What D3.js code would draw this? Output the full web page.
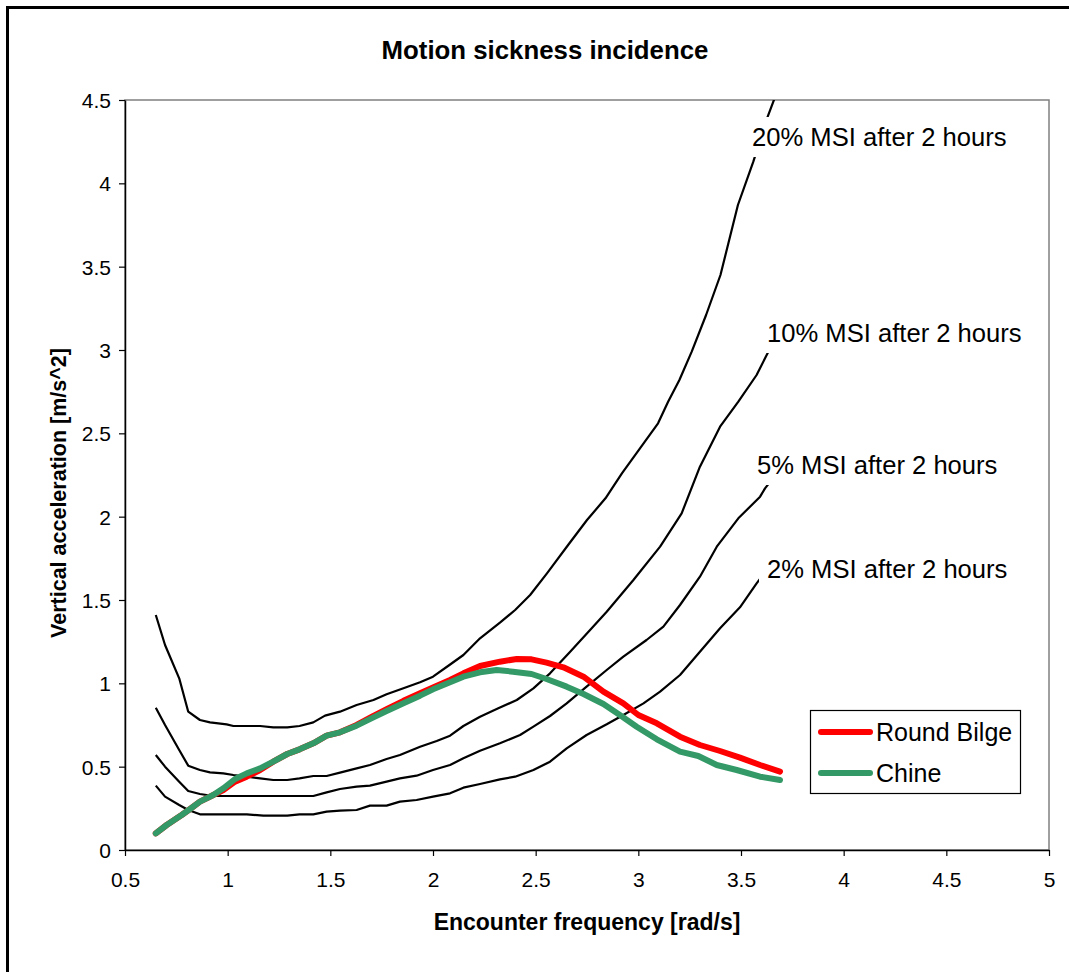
<!DOCTYPE html>
<html>
<head>
  <title>Motion sickness incidence</title>
  <style>
  html, body { margin:0; padding:0; background:white; }
  svg { display:block; font-family: "Liberation Sans", Arial, sans-serif; }
  </style>
  <script src="https://d3js.org/d3.v7.min.js"></script>
</head>
<body>
<svg id="canvas" width="1069" height="972"></svg>

<script>
  // ---- data ----
  var xTicks = [0.5, 1, 1.5, 2, 2.5, 3, 3.5, 4, 4.5, 5];
  var yTicks = [0, 0.5, 1, 1.5, 2, 2.5, 3, 3.5, 4, 4.5];

  var msi20x = [0.65,0.695,0.764,0.808,0.865,0.914,0.995,1.028,1.158,1.222,1.29,1.35,1.417,1.474,1.547,1.628,1.71,1.774,1.856,1.937,2.0,2.08,2.148,2.229,2.326,2.40,2.473,2.555,2.658,2.75,2.84,2.92,3.008,3.096,3.145,3.20,3.26,3.33,3.40,3.485,3.56,3.63,3.70];
  var msi20y = [1.41,1.23,1.03,0.83,0.78,0.766,0.754,0.744,0.744,0.736,0.736,0.744,0.766,0.806,0.83,0.87,0.9,0.934,0.97,1.006,1.04,1.11,1.17,1.27,1.364,1.44,1.53,1.66,1.83,1.98,2.11,2.26,2.41,2.56,2.69,2.82,2.99,3.21,3.45,3.87,4.13,4.4,4.63];

  var msi10x = [0.65,0.695,0.764,0.808,0.865,0.914,0.979,1.028,1.093,1.158,1.222,1.29,1.35,1.417,1.482,1.547,1.628,1.693,1.774,1.839,1.937,2.018,2.083,2.148,2.229,2.318,2.408,2.489,2.57,2.668,2.765,2.846,2.976,3.106,3.211,3.30,3.398,3.487,3.576,3.617,3.70];
  var msi10y = [0.854,0.75,0.6,0.506,0.48,0.466,0.46,0.45,0.44,0.43,0.42,0.42,0.43,0.444,0.444,0.464,0.49,0.51,0.546,0.57,0.62,0.654,0.686,0.744,0.8,0.85,0.9,0.97,1.06,1.19,1.32,1.43,1.62,1.82,2.02,2.3,2.54,2.69,2.85,2.95,3.15];

  var msi5x = [0.65,0.695,0.764,0.808,0.865,0.93,1.417,1.482,1.547,1.628,1.693,1.774,1.839,1.92,2.0,2.083,2.148,2.229,2.326,2.424,2.489,2.57,2.651,2.748,2.846,2.927,3.04,3.122,3.203,3.30,3.382,3.487,3.593,3.617,3.70];
  var msi5y = [0.57,0.5,0.41,0.354,0.336,0.324,0.324,0.346,0.366,0.38,0.386,0.41,0.43,0.446,0.48,0.51,0.55,0.596,0.64,0.69,0.74,0.804,0.88,0.98,1.08,1.16,1.26,1.34,1.47,1.64,1.82,1.99,2.12,2.17,2.3];

  var msi2x = [0.65,0.695,0.764,0.808,0.865,1.093,1.174,1.29,1.35,1.417,1.482,1.547,1.628,1.693,1.774,1.839,1.92,2.0,2.083,2.148,2.229,2.326,2.4,2.489,2.57,2.651,2.748,2.846,2.927,3.025,3.106,3.203,3.30,3.398,3.495,3.576,3.70];
  var msi2y = [0.386,0.32,0.27,0.24,0.214,0.214,0.206,0.206,0.214,0.214,0.23,0.236,0.24,0.266,0.266,0.29,0.3,0.32,0.34,0.374,0.396,0.424,0.44,0.48,0.53,0.61,0.69,0.754,0.81,0.88,0.95,1.05,1.19,1.33,1.456,1.6,1.8];

  var bilgeX = [0.65,0.703,0.776,0.817,0.865,0.93,0.979,1.036,1.093,1.158,1.222,1.29,1.35,1.417,1.482,1.547,1.628,1.71,1.774,1.856,1.937,2.0,2.083,2.148,2.229,2.326,2.408,2.48,2.553,2.635,2.733,2.83,2.927,3.0,3.09,3.203,3.30,3.398,3.495,3.593,3.69];
  var bilgeY = [0.1,0.15,0.21,0.246,0.29,0.33,0.36,0.41,0.44,0.48,0.53,0.576,0.604,0.64,0.686,0.706,0.75,0.805,0.845,0.895,0.94,0.975,1.02,1.06,1.104,1.13,1.146,1.144,1.124,1.096,1.04,0.95,0.88,0.81,0.76,0.68,0.63,0.594,0.554,0.51,0.47];

  var chineX = [0.65,0.703,0.776,0.817,0.865,0.93,0.979,1.036,1.093,1.158,1.222,1.29,1.35,1.417,1.482,1.547,1.628,1.71,1.774,1.856,1.937,2.0,2.083,2.148,2.229,2.31,2.39,2.48,2.553,2.651,2.733,2.83,2.91,2.992,3.09,3.203,3.292,3.382,3.479,3.593,3.69];
  var chineY = [0.1,0.15,0.21,0.246,0.29,0.33,0.37,0.426,0.46,0.49,0.53,0.576,0.604,0.64,0.686,0.706,0.746,0.796,0.834,0.88,0.926,0.964,1.006,1.04,1.066,1.08,1.07,1.056,1.026,0.98,0.936,0.876,0.81,0.74,0.664,0.59,0.564,0.51,0.48,0.44,0.42];

  var msiLabels = ["20% MSI after 2 hours", "10% MSI after 2 hours", "5% MSI after 2 hours", "2% MSI after 2 hours"];
  var seriesNames = ["Round Bilge", "Chine"];
  var seriesColors = ["#ff0000", "#339966"];

  // ---- layout ----
  var svg = d3.select("#canvas");
  var plotL = 125, plotR = 1049, plotT = 100, plotB = 850;

  var x = d3.scaleLinear().domain([0.5, 5]).range([plotL, plotR]);
  var y = d3.scaleLinear().domain([0, 4.5]).range([plotB, plotT]);

  svg.append("rect").attr("width", 1069).attr("height", 972).attr("fill", "white");

  // outer chart frame
  svg.append("rect")
    .attr("x", 7.5).attr("y", 7.5)
    .attr("width", 1100).attr("height", 1000)
    .attr("fill", "none").attr("stroke", "black").attr("stroke-width", 3);

  // plot area border (gray top/right)
  svg.append("rect")
    .attr("x", plotL).attr("y", plotT)
    .attr("width", plotR - plotL).attr("height", plotB - plotT)
    .attr("fill", "none").attr("stroke", "#808080").attr("stroke-width", 1.5);

  svg.append("clipPath").attr("id", "plotclip")
    .append("rect").attr("x", plotL).attr("y", plotT).attr("width", plotR - plotL).attr("height", plotB - plotT);

  // axes
  var xAxis = svg.append("g")
    .attr("transform", "translate(0," + plotB + ")")
    .call(d3.axisBottom(x).tickValues(xTicks).tickSize(6).tickSizeOuter(0).tickFormat(function(d) { return String(d); }));
  var yAxis = svg.append("g")
    .attr("transform", "translate(" + plotL + ",0)")
    .call(d3.axisLeft(y).tickValues(yTicks).tickSize(6).tickSizeOuter(0).tickFormat(function(d) { return String(d); }));

  [xAxis, yAxis].forEach(function(a) {
    a.select(".domain").attr("stroke", "black").attr("stroke-width", 1.5);
    a.selectAll(".tick line").attr("stroke", "black").attr("stroke-width", 1.2);
    a.selectAll(".tick text")
      .style("font-family", "Liberation Sans, Arial, sans-serif")
      .style("font-size", "21px").attr("fill", "black");
  });
  xAxis.selectAll(".tick text").attr("dy", "0").attr("y", 37);
  yAxis.selectAll(".tick text").attr("x", -14).attr("dy", "0.35em");

  // lines
  var line = d3.line().x(function(d) { return x(d[0]); }).y(function(d) { return y(d[1]); });
  var plot = svg.append("g").attr("clip-path", "url(#plotclip)");

  var msiSeries = [[msi20x, msi20y], [msi10x, msi10y], [msi5x, msi5y], [msi2x, msi2y]];
  msiSeries.forEach(function(s) {
    plot.append("path")
      .datum(d3.zip(s[0], s[1]))
      .attr("d", line)
      .attr("fill", "none").attr("stroke", "black").attr("stroke-width", 2.2)
      .attr("stroke-linejoin", "round");
  });

  [[bilgeX, bilgeY], [chineX, chineY]].forEach(function(s, i) {
    plot.append("path")
      .datum(d3.zip(s[0], s[1]))
      .attr("d", line)
      .attr("fill", "none").attr("stroke", seriesColors[i]).attr("stroke-width", 6)
      .attr("stroke-linejoin", "round").attr("stroke-linecap", "round");
  });

  // curve labels with white background
  var labelPos = [[752, 137], [767, 333], [757, 465], [767, 569]];
  msiLabels.forEach(function(txt, i) {
    var g = svg.append("g");
    var bg = g.append("rect").attr("fill", "white");
    var t = g.append("text")
      .attr("x", labelPos[i][0]).attr("y", labelPos[i][1])
      .attr("dy", "0.35em")
      .style("font-size", "25.6px").attr("fill", "black")
      .text(txt);
    var w = t.node().getComputedTextLength();
    bg.attr("x", labelPos[i][0] - 8).attr("y", labelPos[i][1] - 20)
      .attr("width", w + 12).attr("height", 40);
  });

  // title and axis titles
  svg.append("text").text("Motion sickness incidence")
    .attr("x", 545).attr("y", 50).attr("dy", "0.35em")
    .attr("text-anchor", "middle")
    .style("font-weight", "bold").style("font-size", "25.8px");
  svg.append("text").text("Encounter frequency [rad/s]")
    .attr("x", 587).attr("y", 922).attr("dy", "0.35em")
    .attr("text-anchor", "middle")
    .style("font-weight", "bold").style("font-size", "23px");
  svg.append("text").text("Vertical acceleration [m/s^2]")
    .attr("transform", "translate(58,493) rotate(-90)")
    .attr("dy", "0.35em")
    .attr("text-anchor", "middle")
    .style("font-weight", "bold").style("font-size", "21.5px");

  // legend
  var legend = svg.append("g");
  legend.append("rect")
    .attr("x", 810.5).attr("y", 710.5).attr("width", 210).attr("height", 83)
    .attr("fill", "white").attr("stroke", "black").attr("stroke-width", 1.2);
  seriesNames.forEach(function(name, i) {
    var ly = 732 + i * 41;
    legend.append("line")
      .attr("x1", 821).attr("x2", 870).attr("y1", ly).attr("y2", ly)
      .attr("stroke", seriesColors[i]).attr("stroke-width", 6).attr("stroke-linecap", "round");
    legend.append("text").text(name)
      .attr("x", 876).attr("y", ly).attr("dy", "0.35em")
      .style("font-size", "25px");
  });
</script>
</body>
</html>
